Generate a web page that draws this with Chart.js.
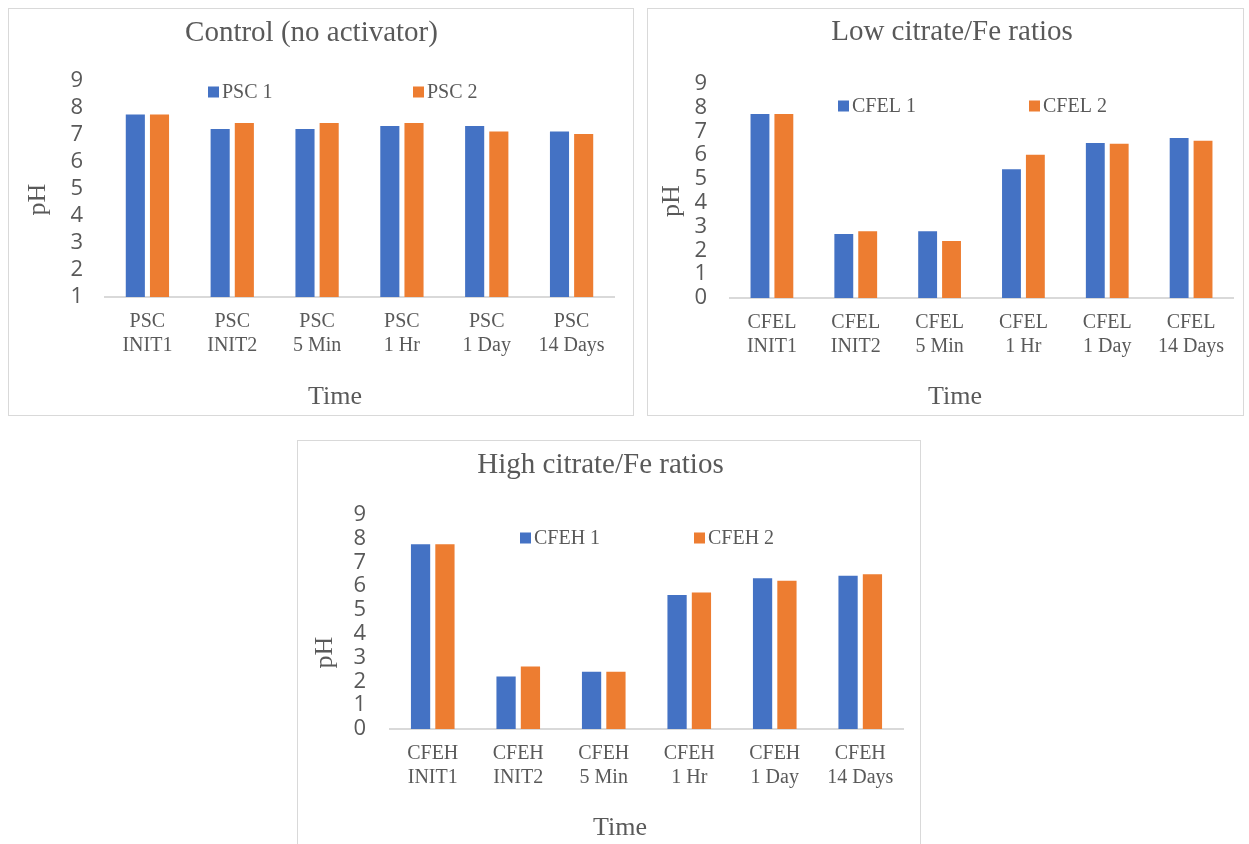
<!DOCTYPE html>
<html>
<head>
<meta charset="utf-8">
<script src="https://cdn.jsdelivr.net/npm/chart.js@4.4.1/dist/chart.umd.min.js"></script>
<style>
  body { margin: 0; background: #fff; }
  .box { position: absolute; border: 1px solid #d9d9d9; background: #fff; }
</style>
</head>
<body>
<div class="box" style="left:8px;top:8px;width:624px;height:406px"><canvas id="c1"></canvas></div>
<div class="box" style="left:647px;top:8px;width:595px;height:406px"><canvas id="c2"></canvas></div>
<div class="box" style="left:297px;top:440px;width:622px;height:410px"><canvas id="c3"></canvas></div>
<script>
// time points (second line of each category label)
const timeLabels = ['INIT1', 'INIT2', '5 Min', '1 Hr', '1 Day', '14 Days'];

// Control (no activator)
const psc1 = [7.75, 7.22, 7.22, 7.33, 7.33, 7.12];
const psc2 = [7.75, 7.44, 7.44, 7.44, 7.12, 7.03];

// Low citrate/Fe ratios
const cfel1 = [7.73, 2.69, 2.80, 5.41, 6.51, 6.72];
const cfel2 = [7.73, 2.80, 2.40, 6.02, 6.48, 6.61];

// High citrate/Fe ratios
const cfeh1 = [7.76, 2.21, 2.41, 5.63, 6.33, 6.44];
const cfeh2 = [7.76, 2.63, 2.41, 5.74, 6.23, 6.50];

const serif = "'Liberation Serif', 'Times New Roman', serif";
const sans = "'Open Sans', 'Liberation Sans', sans-serif";
const grey = '#595959';

// legend inside the plot + axis titles placed like Excel does
const extras = {
  id: 'extras',
  afterDraw(chart, args, o) {
    const ctx = chart.ctx;
    ctx.save();
    ctx.textBaseline = 'middle';
    ctx.font = '20px ' + serif;
    chart.data.datasets.forEach((ds, i) => {
      const x = o.legendX[i];
      ctx.fillStyle = ds.backgroundColor;
      ctx.fillRect(x, o.legendY - 5.5, 11, 11);
      ctx.fillStyle = grey;
      ctx.textAlign = 'left';
      ctx.fillText(ds.label, x + 14, o.legendY + 1);
    });
    ctx.font = '26px ' + serif;
    ctx.textAlign = 'center';
    ctx.fillStyle = grey;
    ctx.fillText('Time', o.xTitle[0], o.xTitle[1]);
    ctx.translate(o.yTitle[0], o.yTitle[1]);
    ctx.rotate(-Math.PI / 2);
    ctx.fillText('pH', 0, 0);
    ctx.restore();
  }
};
Chart.register(extras);

function makeChart(id, title, prefix, names, v1, v2, yMin, L) {
  return new Chart(document.getElementById(id), {
    type: 'bar',
    data: {
      labels: timeLabels.map(t => [prefix, t]),
      datasets: [
        { label: names[0], data: v1, backgroundColor: '#4472C4' },
        { label: names[1], data: v2, backgroundColor: '#ED7D31' }
      ]
    },
    options: {
      responsive: true,
      maintainAspectRatio: false,
      animation: false,
      devicePixelRatio: 1,
      layout: { padding: { left: L.left, right: L.right, top: 0, bottom: 0 } },
      datasets: { bar: { categoryPercentage: 0.57, barPercentage: 0.79 } },
      plugins: {
        legend: { display: false },
        tooltip: { enabled: false },
        title: {
          display: true, text: title, color: grey,
          font: { family: serif, size: 29, weight: 'normal' },
          padding: { top: L.titleTop, bottom: L.titleBottom }
        },
        extras: L
      },
      scales: {
        x: {
          grid: { display: false, drawTicks: false },
          border: { color: '#d9d9d9', width: 2 },
          ticks: { color: grey, font: { family: serif, size: 20 }, padding: 13, maxRotation: 0, autoSkip: false },
          afterFit: s => { s.height = L.xHeight; }
        },
        y: {
          min: yMin, max: 9,
          grid: { display: false, drawTicks: false },
          border: { display: false },
          ticks: { stepSize: 1, autoSkip: false, color: grey, font: { family: sans, size: 22, lineHeight: 1 }, padding: L.tickPad },
          afterFit: s => { s.width = L.yWidth; }
        }
      }
    }
  });
}

makeChart('c1', 'Control (no activator)', 'PSC', ['PSC 1', 'PSC 2'], psc1, psc2, 1, {
  left: 0, right: 19, titleTop: 7, titleBottom: 30, xHeight: 118, yWidth: 96, tickPad: 22,
  legendX: [199, 404], legendY: 83, xTitle: [326, 388], yTitle: [29, 190.5]
});
makeChart('c2', 'Low citrate/Fe ratios', 'CFEL', ['CFEL 1', 'CFEL 2'], cfel1, cfel2, 0, {
  left: 23, right: 10, titleTop: 6, titleBottom: 34, xHeight: 117, yWidth: 59, tickPad: 23,
  legendX: [190, 381], legendY: 97, xTitle: [307, 388], yTitle: [24, 192]
});
makeChart('c3', 'High citrate/Fe ratios', 'CFEH', ['CFEH 1', 'CFEH 2'], cfeh1, cfeh2, 0, {
  left: 0, right: 17, titleTop: 7, titleBottom: 32, xHeight: 122, yWidth: 92, tickPad: 24,
  legendX: [222, 396], legendY: 97, xTitle: [322, 387], yTitle: [27, 211.5]
});
</script>
</body>
</html>
